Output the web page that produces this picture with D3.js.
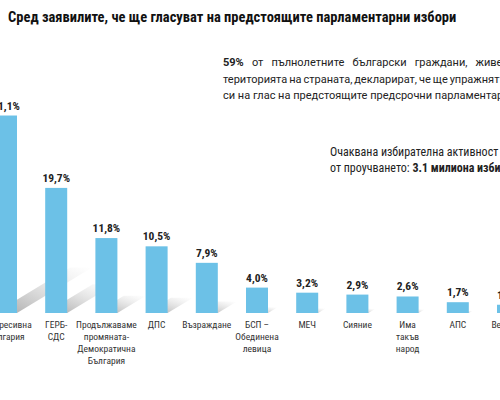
<!DOCTYPE html>
<html>
<head>
<meta charset="utf-8">
<script src="https://cdn.jsdelivr.net/npm/d3@7"></script>
<style>
  body { margin: 0; background: #fff; }
  svg { display: block; }
  .cond { font-family: 'Roboto Condensed', 'Liberation Sans Narrow', 'DejaVu Sans Condensed', sans-serif; }
</style>
</head>
<body>
<svg id="chart" width="500" height="400"></svg>
<script>
// данни
const parties = [
  ["Прогресивна", "България"],
  ["ГЕРБ-", "СДС"],
  ["Продължаваме", "промяната-", "Демократична", "България"],
  ["ДПС"],
  ["Възраждане"],
  ["БСП –", "Обединена", "левица"],
  ["МЕЧ"],
  ["Сияние"],
  ["Има", "такъв", "народ"],
  ["АПС"],
  ["Величие"]
];
const shares = [31.1, 19.7, 11.8, 10.5, 7.9, 4.0, 3.2, 2.9, 2.6, 1.7, 1.3];

const titleText = "Сред заявилите, че ще гласуват на предстоящите парламентарни избори";
const noteLines = [
  ["59%", " от пълнолетните български граждани, живеещи на"],
  ["", "територията на страната, декларират, че ще упражнят правото"],
  ["", "си на глас на предстоящите предсрочни парламентарни избори."]
];
const turnoutLines = [
  ["Очаквана избирателна активност според данните", ""],
  ["от проучването: ", "3.1 милиона избиратели"]
];

const svg = d3.select("#chart");
const barColor = "#6cc1e7";
const barW = 22;

const keys = parties.map((d, i) => i);
const x = d3.scalePoint().domain(keys).range([6, 508]);
const y = d3.scaleLinear().domain([0, 35]).range([313, 313 - 35 * 6.35]);

// сенки
const defs = svg.append("defs");
const grad = defs.append("linearGradient")
  .attr("id", "shadowGrad")
  .attr("x1", "0").attr("y1", "1").attr("x2", "1").attr("y2", "0");
grad.append("stop").attr("offset", "0%").attr("stop-color", "#8f8f8f").attr("stop-opacity", 0.8);
grad.append("stop").attr("offset", "100%").attr("stop-color", "#cfcfcf").attr("stop-opacity", 0);

const g = svg.append("g");

g.selectAll(".shadow")
  .data(shares)
  .join("polygon")
  .attr("class", "shadow")
  .attr("fill", "url(#shadowGrad)")
  .attr("points", (d, i) => {
    const x0 = x(i) - barW / 2;
    const x1 = x(i) + barW / 2;
    const b = y(0);
    const h = y(0) - y(d);
    const dx = h * 0.38, dy = h * 0.23;
    return [[x0, b], [x1, b], [x1 + dx, b - dy], [x0 + dx, b - dy]].join(" ");
  });

g.selectAll(".bar")
  .data(shares)
  .join("rect")
  .attr("class", "bar")
  .attr("x", (d, i) => x(i) - barW / 2)
  .attr("y", d => y(d))
  .attr("width", barW)
  .attr("height", d => y(0) - y(d))
  .attr("fill", barColor);

const fmt = d => d3.format(".1f")(d).replace(".", ",") + "%";

g.selectAll(".val")
  .data(shares)
  .join("text")
  .attr("class", "val cond")
  .attr("x", (d, i) => x(i))
  .attr("y", d => y(d) - 6)
  .attr("text-anchor", "middle")
  .attr("font-size", 11.5)
  .attr("font-weight", "bold")
  .attr("fill", "#222")
  .text(fmt);

const cat = g.selectAll(".cat")
  .data(parties)
  .join("text")
  .attr("class", "cat cond")
  .attr("text-anchor", "middle")
  .attr("font-size", 9.5)
  .attr("fill", "#333");
cat.selectAll("tspan")
  .data((d, i) => d.map(t => ({ t, i })))
  .join("tspan")
  .attr("x", d => x(d.i))
  .attr("y", (d, j) => 328 + j * 12)
  .text(d => d.t);

// заглавие
svg.append("text")
  .attr("class", "cond")
  .attr("x", 8)
  .attr("y", 22)
  .attr("font-size", 14.5)
  .attr("font-weight", "bold")
  .attr("fill", "#111")
  .text(titleText);

// бележка
const note = svg.append("g").attr("font-family", "Roboto, sans-serif").attr("font-size", 11).attr("fill", "#222");
const wordSp = [5.4, -0.8, 0];
noteLines.forEach((ln, i) => {
  const t = note.append("text")
    .attr("x", 223)
    .attr("y", 66 + i * 16.5)
    .attr("word-spacing", wordSp[i]);
  if (ln[0]) t.append("tspan").attr("font-weight", "bold").text(ln[0]);
  t.append("tspan").text(ln[1]);
});

const turn = svg.append("g").attr("class", "cond").attr("font-size", 12).attr("fill", "#222");
turnoutLines.forEach((ln, i) => {
  const t = turn.append("text")
    .attr("x", 330)
    .attr("y", 156 + i * 15.5);
  t.append("tspan").text(ln[0]);
  if (ln[1]) t.append("tspan").attr("font-weight", "bold").text(ln[1]);
});
</script>
</body>
</html>
